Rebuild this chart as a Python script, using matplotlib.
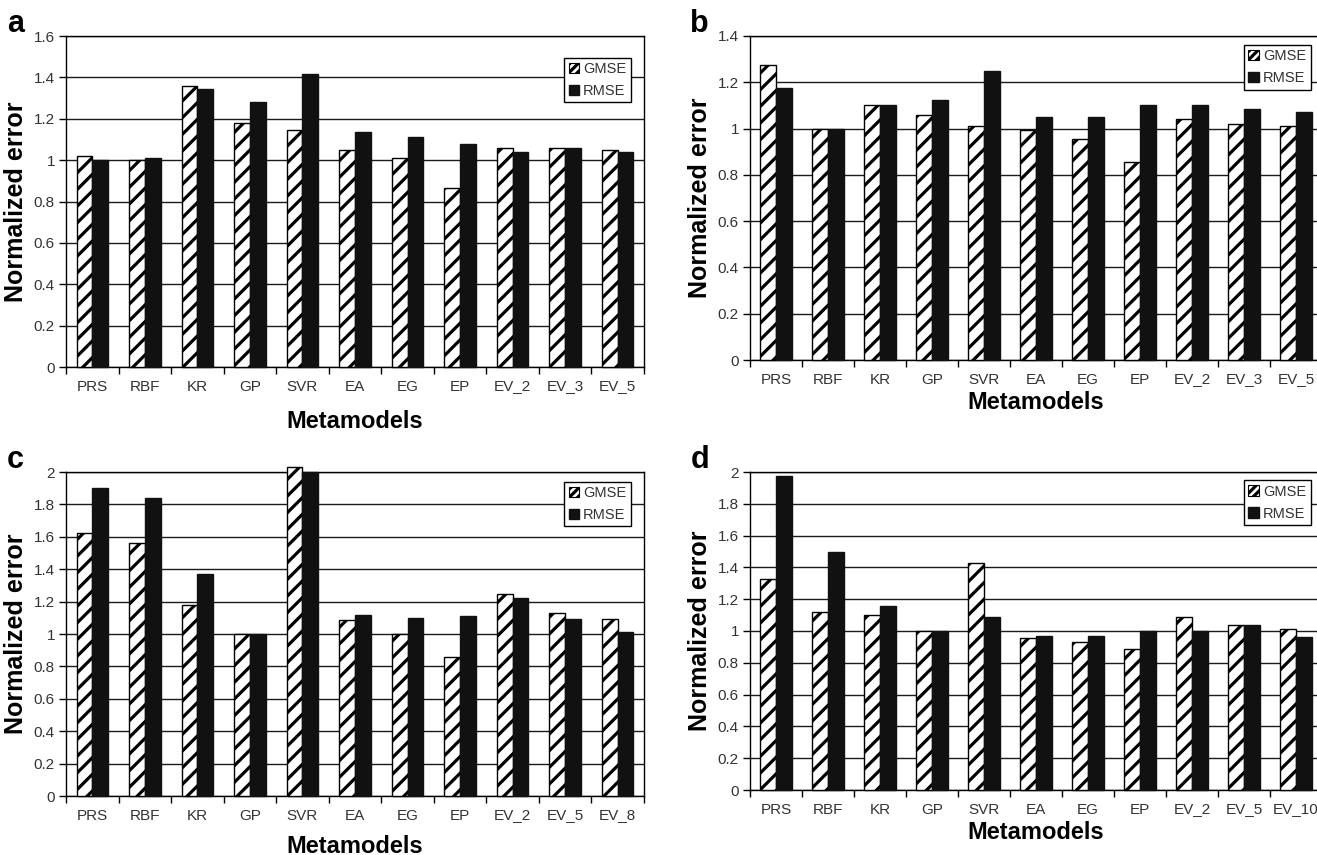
"""Normalized GMSE / RMSE of the metamodels, four test problems (a-d)."""

import matplotlib

matplotlib.use("Agg")
import matplotlib.pyplot as plt
import numpy as np
from matplotlib.patches import Patch
from matplotlib.ticker import FuncFormatter, MultipleLocator

plt.rcParams["font.family"] = ["Liberation Sans", "DejaVu Sans"]
plt.rcParams["hatch.linewidth"] = 2.3

BASE = ["PRS", "RBF", "KR", "GP", "SVR", "EA", "EG", "EP"]

models_a = BASE + ["EV_2", "EV_3", "EV_5"]
gmse_a = [1.02, 1.00, 1.36, 1.18, 1.145, 1.05, 1.01, 0.865, 1.06, 1.06, 1.05]
rmse_a = [1.00, 1.01, 1.345, 1.28, 1.415, 1.135, 1.11, 1.08, 1.04, 1.06, 1.04]

models_b = BASE + ["EV_2", "EV_3", "EV_5"]
gmse_b = [1.275, 1.00, 1.10, 1.06, 1.01, 0.995, 0.955, 0.855, 1.04, 1.02, 1.01]
rmse_b = [1.175, 1.00, 1.10, 1.125, 1.25, 1.05, 1.05, 1.10, 1.10, 1.085, 1.07]

models_c = BASE + ["EV_2", "EV_5", "EV_8"]
gmse_c = [1.625, 1.56, 1.18, 1.00, 2.03, 1.085, 1.00, 0.86, 1.25, 1.13, 1.09]
rmse_c = [1.90, 1.84, 1.37, 1.00, 2.00, 1.12, 1.10, 1.11, 1.22, 1.09, 1.01]

models_d = BASE + ["EV_2", "EV_5", "EV_10"]
gmse_d = [1.325, 1.12, 1.10, 1.00, 1.43, 0.955, 0.93, 0.885, 1.085, 1.04, 1.015]
rmse_d = [1.975, 1.50, 1.16, 1.00, 1.085, 0.97, 0.97, 1.00, 1.00, 1.035, 0.965]

W, H = 1317, 855


def px_axes(fig, left, top, right, bottom):
    return fig.add_axes([left / W, 1 - bottom / H, (right - left) / W, (bottom - top) / H])


def draw_panel(ax, letter, models, gmse, rmse, ymax, legend_anchor, xlabel_y):
    x = np.arange(len(models))
    bw = 0.3
    ax.bar(x - bw / 2, gmse, bw, color="white", edgecolor="black", hatch="//",
           linewidth=1.0, zorder=3, clip_on=False)
    ax.bar(x + bw / 2, rmse, bw, color="#111111", edgecolor="#111111",
           linewidth=1.0, zorder=3, clip_on=False)

    ax.set_xlim(-0.5, len(models) - 0.5)
    ax.set_ylim(0, ymax)
    ax.yaxis.set_major_locator(MultipleLocator(0.2))
    ax.yaxis.set_major_formatter(FuncFormatter(lambda v, _: f"{v:g}"))
    ax.grid(axis="y", color="#1a1a1a", linewidth=1.0, zorder=0)
    ax.set_axisbelow(True)

    # ticks sit between categories, labels at the category centres
    ax.set_xticks(np.arange(len(models) + 1) - 0.5)
    ax.set_xticklabels([])
    ax.set_xticks(x, minor=True)
    ax.set_xticklabels(models, minor=True)
    ax.tick_params(axis="x", which="major", direction="out", length=5, width=1, color="black")
    ax.tick_params(axis="x", which="minor", length=0, pad=9, labelsize=11,
                   labelcolor="#333333")
    ax.tick_params(axis="y", direction="out", length=5, width=1, pad=3,
                   labelsize=11, labelcolor="#333333")
    for side in ["left", "bottom", "top", "right"]:
        ax.spines[side].set_color("black")
        ax.spines[side].set_linewidth(1.0)

    ax.set_ylabel("Normalized error", fontsize=18, fontweight="bold")
    ax.yaxis.set_label_coords(-0.066, 0.5)
    ax.set_xlabel("Metamodels", fontsize=17, fontweight="bold")
    ax.xaxis.set_label_coords(0.5, xlabel_y)

    handles = [Patch(facecolor="white", edgecolor="black", hatch="////", linewidth=0.8),
               Patch(facecolor="#111111", edgecolor="#111111")]
    leg = ax.legend(handles, ["GMSE", "RMSE"], loc="upper right", bbox_to_anchor=legend_anchor,
                    fontsize=10.5, frameon=True, fancybox=False, framealpha=1,
                    edgecolor="black", borderpad=0.3, labelspacing=0.55,
                    handlelength=0.7, handleheight=0.7, handletextpad=0.3, borderaxespad=0)
    leg.get_frame().set_linewidth(1.0)
    for t in leg.get_texts():
        t.set_color("#333333")
    leg.set_zorder(5)

    ax.text(-0.088, 1.012, letter, transform=ax.transAxes, fontsize=22,
            fontweight="bold", ha="center", va="baseline")


fig = plt.figure(figsize=(W / 100, H / 100), dpi=100)

ax_a = px_axes(fig, 66, 36, 644, 367)
ax_b = px_axes(fig, 750, 36, 1322, 360)
ax_c = px_axes(fig, 66, 472, 644, 796)
ax_d = px_axes(fig, 750, 472, 1322, 790)

draw_panel(ax_a, "a", models_a, gmse_a, rmse_a, 1.6, (0.977, 0.935), -0.13)
draw_panel(ax_b, "b", models_b, gmse_b, rmse_b, 1.4, (0.98, 0.972), -0.096)
draw_panel(ax_c, "c", models_c, gmse_c, rmse_c, 2.0, (0.977, 0.97), -0.12)
draw_panel(ax_d, "d", models_d, gmse_d, rmse_d, 2.0, (0.98, 0.974), -0.097)

fig.savefig("out.png", dpi=100)
